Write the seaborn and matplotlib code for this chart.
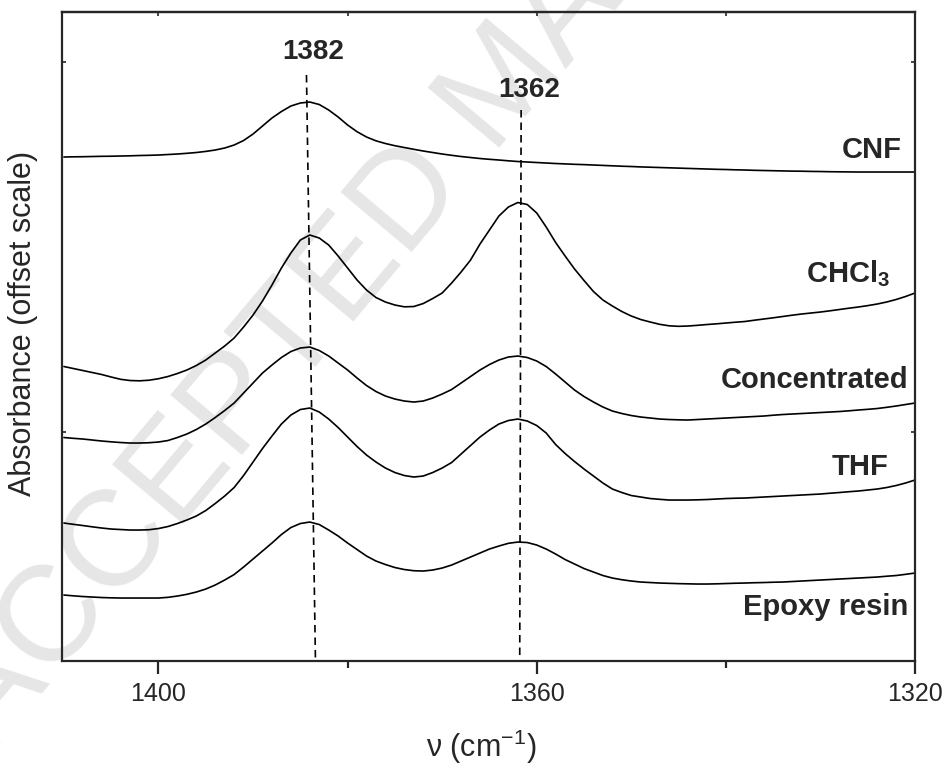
import numpy as np
import pandas as pd
import matplotlib
matplotlib.use('Agg')
import matplotlib.pyplot as plt
from matplotlib.ticker import MultipleLocator
import seaborn as sns

sns.set_style('ticks')
plt.rcParams['font.family'] = ['Liberation Sans', 'DejaVu Sans']
plt.rcParams['mathtext.fontset'] = 'custom'
plt.rcParams['mathtext.rm'] = 'Liberation Sans'
plt.rcParams['mathtext.bf'] = 'Liberation Sans:bold'
plt.rcParams['mathtext.default'] = 'regular'

# wavenumber grid (cm-1), 1410 -> 1320
wavenumber = np.arange(1410, 1319, -1)

# absorbance, offset scale
cnf = [2.750, 2.752, 2.753, 2.755, 2.757, 2.758, 2.760, 2.762, 2.765, 2.767,
       2.770, 2.775, 2.780, 2.787, 2.795, 2.806, 2.820, 2.840, 2.870, 2.915,
       2.980, 3.060, 3.140, 3.205, 3.260, 3.290, 3.300, 3.275, 3.220, 3.150,
       3.070, 3.003, 2.950, 2.912, 2.885, 2.863, 2.845, 2.827, 2.810, 2.795,
       2.780, 2.767, 2.755, 2.745, 2.735, 2.727, 2.720, 2.712, 2.705, 2.700,
       2.695, 2.690, 2.685, 2.681, 2.677, 2.674, 2.670, 2.666, 2.662, 2.658,
       2.655, 2.651, 2.648, 2.645, 2.642, 2.639, 2.636, 2.633, 2.630, 2.627,
       2.625, 2.622, 2.620, 2.617, 2.615, 2.613, 2.611, 2.609, 2.608, 2.606,
       2.605, 2.603, 2.602, 2.601, 2.600, 2.600, 2.600, 2.600, 2.600, 2.600,
       2.600]
chcl3 = [0.655, 0.635, 0.615, 0.595, 0.575, 0.550, 0.527, 0.515, 0.512, 0.518,
         0.533, 0.555, 0.585, 0.620, 0.665, 0.720, 0.790, 0.860, 0.940, 1.050,
         1.170, 1.310, 1.470, 1.640, 1.790, 1.920, 1.970, 1.940, 1.870, 1.760,
         1.640, 1.520, 1.420, 1.345, 1.300, 1.270, 1.252, 1.255, 1.285, 1.335,
         1.390, 1.490, 1.600, 1.720, 1.880, 2.020, 2.160, 2.250, 2.295, 2.275,
         2.190, 2.050, 1.895, 1.760, 1.630, 1.515, 1.405, 1.320, 1.260, 1.205,
         1.160, 1.125, 1.100, 1.077, 1.062, 1.057, 1.060, 1.067, 1.075, 1.082,
         1.090, 1.098, 1.105, 1.118, 1.130, 1.142, 1.155, 1.168, 1.180, 1.190,
         1.200, 1.212, 1.225, 1.238, 1.250, 1.264, 1.280, 1.300, 1.325, 1.355,
         1.390]
concentrated = [-0.055, -0.063, -0.070, -0.080, -0.090, -0.098, -0.105, -0.110, -0.110, -0.107,
                -0.100, -0.085, -0.055, -0.020, 0.025, 0.080, 0.145, 0.215, 0.290, 0.390,
                0.490, 0.590, 0.670, 0.745, 0.805, 0.840, 0.850, 0.815, 0.760, 0.690,
                0.620, 0.540, 0.465, 0.405, 0.360, 0.330, 0.310, 0.300, 0.310, 0.340,
                0.380, 0.425, 0.490, 0.555, 0.620, 0.675, 0.720, 0.750, 0.760, 0.745,
                0.710, 0.655, 0.580, 0.500, 0.420, 0.355, 0.300, 0.250, 0.210, 0.185,
                0.165, 0.150, 0.140, 0.130, 0.125, 0.122, 0.120, 0.125, 0.130, 0.135,
                0.140, 0.145, 0.150, 0.155, 0.160, 0.168, 0.175, 0.180, 0.185, 0.190,
                0.195, 0.200, 0.205, 0.212, 0.220, 0.227, 0.235, 0.247, 0.260, 0.275,
                0.290]
thf = [-0.910, -0.923, -0.935, -0.948, -0.960, -0.970, -0.975, -0.980, -0.980, -0.977,
       -0.965, -0.945, -0.915, -0.880, -0.840, -0.785, -0.715, -0.640, -0.555, -0.435,
       -0.300, -0.165, -0.040, 0.080, 0.170, 0.225, 0.240, 0.200, 0.130, 0.045,
       -0.050, -0.145, -0.230, -0.300, -0.360, -0.405, -0.435, -0.450, -0.440, -0.405,
       -0.360, -0.305, -0.220, -0.135, -0.050, 0.020, 0.080, 0.115, 0.130, 0.110,
       0.065, -0.010, -0.125, -0.215, -0.295, -0.370, -0.440, -0.510, -0.570, -0.605,
       -0.635, -0.650, -0.665, -0.673, -0.680, -0.680, -0.680, -0.678, -0.675, -0.670,
       -0.665, -0.662, -0.660, -0.655, -0.650, -0.645, -0.640, -0.635, -0.630, -0.625,
       -0.620, -0.612, -0.605, -0.597, -0.590, -0.580, -0.570, -0.555, -0.535, -0.510,
       -0.480]
epoxy = [-1.630, -1.638, -1.645, -1.650, -1.655, -1.658, -1.660, -1.660, -1.660, -1.660,
         -1.660, -1.653, -1.640, -1.623, -1.600, -1.570, -1.530, -1.480, -1.425, -1.350,
         -1.270, -1.190, -1.110, -1.025, -0.955, -0.915, -0.900, -0.925, -0.980, -1.040,
         -1.110, -1.175, -1.240, -1.290, -1.325, -1.355, -1.375, -1.387, -1.390, -1.380,
         -1.360, -1.330, -1.290, -1.250, -1.210, -1.170, -1.140, -1.113, -1.100, -1.105,
         -1.130, -1.170, -1.220, -1.275, -1.320, -1.365, -1.400, -1.435, -1.460, -1.477,
         -1.490, -1.500, -1.505, -1.510, -1.513, -1.516, -1.518, -1.520, -1.520, -1.518,
         -1.515, -1.512, -1.510, -1.507, -1.505, -1.502, -1.500, -1.495, -1.490, -1.485,
         -1.480, -1.475, -1.470, -1.465, -1.460, -1.455, -1.450, -1.442, -1.435, -1.423,
         -1.410]

series = {'CNF': cnf, 'CHCl$_3$': chcl3, 'Concentrated': concentrated,
          'THF': thf, 'Epoxy resin': epoxy}
label_y = {'CNF': 2.74, 'CHCl$_3$': 1.50, 'Concentrated': 0.44,
           'THF': -0.43, 'Epoxy resin': -1.83}
label_x = {'CNF': 1321.4, 'CHCl$_3$': 1322.6, 'Concentrated': 1320.7,
           'THF': 1322.8, 'Epoxy resin': 1320.7}

# peak marker lines (top x, bottom x, top y) and their labels
peak_names = ['1382', '1362']
peak_top_x = [1384.35, 1361.65]
peak_bot_x = [1383.4, 1361.8]
peak_top_y = [3.57, 3.22]
peak_text_x = [1383.6, 1360.8]
peak_text_y = [3.80, 3.42]

fig = plt.figure(figsize=(9.47, 7.65), dpi=100)
ax = fig.add_axes([0.0655, 0.1359, 0.9007, 0.8484])
ax.set_facecolor('none')

# watermark, behind the axes
fig.text(-0.008, 0.017, 'ACCEPTED MANUSCRIPT', fontsize=98, color='#e6e6e6',
         rotation=50, rotation_mode='anchor', ha='left', va='baseline', zorder=-1)

for name, vals in series.items():
    df = pd.DataFrame({'wn': wavenumber, 'a': vals})
    sns.lineplot(data=df, x='wn', y='a', color='black', lw=1.2, ax=ax)
    ax.text(label_x[name], label_y[name], name, fontsize=21, fontweight='bold',
            ha='right', va='baseline')

ymin, ymax = -2.29, 4.20
for i in range(2):
    ax.plot([peak_top_x[i], peak_bot_x[i]], [peak_top_y[i], ymin], color='black',
            lw=1.2, dashes=(4.5, 3))
    ax.text(peak_text_x[i], peak_text_y[i], peak_names[i], fontsize=20,
            fontweight='bold', ha='center', va='center')

ax.set_xlim(1410.2, 1320)
ax.set_ylim(ymin, ymax)
ax.xaxis.set_major_locator(MultipleLocator(40))
ax.xaxis.set_minor_locator(MultipleLocator(20))
ax.set_yticks([0, 3.7])
ax.set_yticklabels([])

for s in ax.spines.values():
    s.set_linewidth(1.6)
ax.tick_params(axis='x', which='major', direction='out', length=9, width=1.6,
               labelsize=18, pad=6, top=False)
ax.tick_params(axis='x', which='minor', direction='out', length=5, width=1.6, top=False)
ax.tick_params(axis='y', direction='in', length=3, width=1.2, left=True, right=True)

# small inward ticks mirrored on top
ax_top = ax.secondary_xaxis('top')
ax_top.xaxis.set_major_locator(MultipleLocator(40))
ax_top.xaxis.set_minor_locator(MultipleLocator(20))
ax_top.tick_params(which='both', direction='in', length=3, width=1.2, labeltop=False)
ax_top.spines['top'].set_linewidth(1.6)

ax.set_xlabel(r'ν (cm$^{-1}$)', fontsize=22)
ax.set_ylabel('Absorbance (offset scale)', fontsize=22)
ax.xaxis.set_label_coords(0.492, -0.103)
ax.yaxis.set_label_coords(-0.028, 0.52)

fig.savefig('out.png', dpi=100)
